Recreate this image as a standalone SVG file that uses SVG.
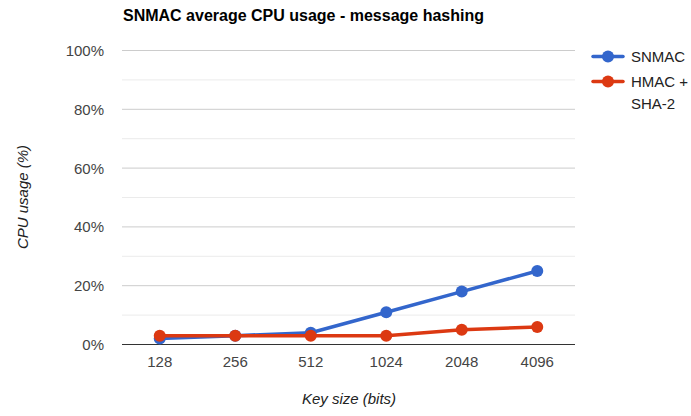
<svg xmlns="http://www.w3.org/2000/svg" width="691" height="416" viewBox="0 0 691 416">
<style>
text{font-family:"Liberation Sans",Arial,sans-serif;}
.title{font-size:16px;font-weight:bold;fill:#000;}
.tick{font-size:15px;fill:#444;}
.ytick{font-size:15px;fill:#444;text-anchor:end;}
.xtick{font-size:15px;fill:#444;text-anchor:middle;}
.axt{font-size:15px;font-style:italic;fill:#222;text-anchor:middle;}
.leg{font-size:15px;fill:#222;}
.major{stroke:#cccccc;stroke-width:1;}
.minor{stroke:#ebebeb;stroke-width:1;}
.blue{stroke:#3366cc;fill:none;stroke-width:3.5;stroke-linejoin:round;stroke-linecap:round;}
.red{stroke:#dc3912;fill:none;stroke-width:3.5;stroke-linejoin:round;stroke-linecap:round;}
.bdot{fill:#3366cc;}
.rdot{fill:#dc3912;}
</style>
<rect width="691" height="416" fill="#ffffff"/>
<text class="title" x="123" y="21">SNMAC average CPU usage - message hashing</text>
<g id="grid">
<line class="minor" x1="122" y1="79.9" x2="575" y2="79.9"/>
<line class="minor" x1="122" y1="138.7" x2="575" y2="138.7"/>
<line class="minor" x1="122" y1="197.5" x2="575" y2="197.5"/>
<line class="minor" x1="122" y1="256.3" x2="575" y2="256.3"/>
<line class="minor" x1="122" y1="315.1" x2="575" y2="315.1"/>
<line class="major" x1="122" y1="50.5" x2="575" y2="50.5"/>
<line class="major" x1="122" y1="109.3" x2="575" y2="109.3"/>
<line class="major" x1="122" y1="168.1" x2="575" y2="168.1"/>
<line class="major" x1="122" y1="226.9" x2="575" y2="226.9"/>
<line class="major" x1="122" y1="285.7" x2="575" y2="285.7"/>
<line x1="122" y1="344.5" x2="575" y2="344.5" stroke="#333333" stroke-width="1"/>
</g>
<g id="y-axis">
<text class="ytick" x="104" y="56">100%</text>
<text class="ytick" x="104" y="114.8">80%</text>
<text class="ytick" x="104" y="173.6">60%</text>
<text class="ytick" x="104" y="232.4">40%</text>
<text class="ytick" x="104" y="291.2">20%</text>
<text class="ytick" x="104" y="350">0%</text>
<text class="axt" transform="translate(28,197) rotate(-90)">CPU usage (%)</text>
</g>
<g id="x-axis">
<text class="xtick" x="159.75" y="367">128</text>
<text class="xtick" x="235.25" y="367">256</text>
<text class="xtick" x="310.75" y="367">512</text>
<text class="xtick" x="386.25" y="367">1024</text>
<text class="xtick" x="461.75" y="367">2048</text>
<text class="xtick" x="537.25" y="367">4096</text>
<text class="axt" x="349" y="404">Key size (bits)</text>
</g>
<g id="connectors">
<polyline id="snmac-line" class="blue" points="159.75,338.6 235.25,335.7 310.75,332.7 386.25,312.2 461.75,291.6 537.25,271"/>
<g id="snmac-points">
<circle class="bdot" cx="159.75" cy="338.6" r="6"/>
<circle class="bdot" cx="235.25" cy="335.7" r="6"/>
<circle class="bdot" cx="310.75" cy="332.7" r="6"/>
<circle class="bdot" cx="386.25" cy="312.2" r="6"/>
<circle class="bdot" cx="461.75" cy="291.6" r="6"/>
<circle class="bdot" cx="537.25" cy="271" r="6"/>
</g>
<polyline id="hmac-line" class="red" points="159.75,335.7 235.25,335.7 310.75,335.7 386.25,335.7 461.75,329.8 537.25,326.9"/>
<g id="hmac-points">
<circle class="rdot" cx="159.75" cy="335.7" r="6"/>
<circle class="rdot" cx="235.25" cy="335.7" r="6"/>
<circle class="rdot" cx="310.75" cy="335.7" r="6"/>
<circle class="rdot" cx="386.25" cy="335.7" r="6"/>
<circle class="rdot" cx="461.75" cy="329.8" r="6"/>
<circle class="rdot" cx="537.25" cy="326.9" r="6"/>
</g>
</g>
<g id="legend-snmac">
<line class="blue" x1="593" y1="56.5" x2="623" y2="56.5"/>
<circle class="bdot" cx="608" cy="56.5" r="6"/>
<text class="leg" x="631" y="62">SNMAC</text>
</g>
<g id="legend-hmac">
<line class="red" x1="593" y1="81.5" x2="623" y2="81.5"/>
<circle class="rdot" cx="608" cy="81.5" r="6"/>
<text class="leg" x="631" y="87">HMAC +</text>
<text class="leg" x="631" y="109">SHA-2</text>
</g>
</svg>
